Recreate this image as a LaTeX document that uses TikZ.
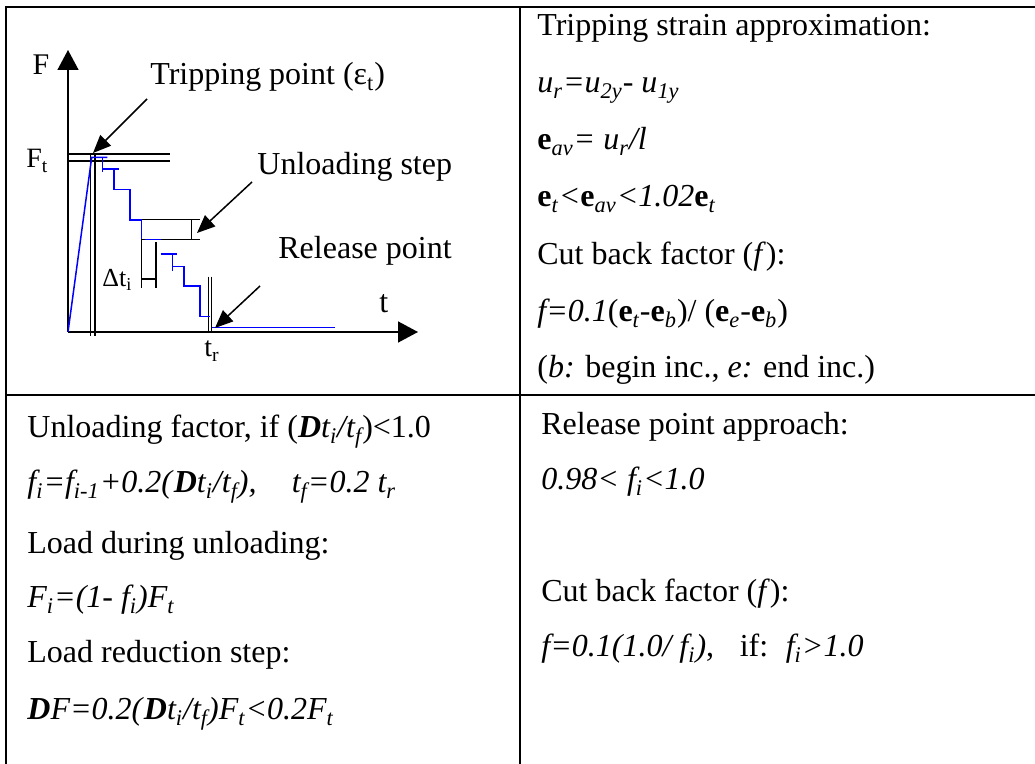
\documentclass[tikz,border=0pt]{standalone}
\usepackage{fontspec}
\setmainfont{Liberation Serif}
\usetikzlibrary{arrows.meta}
\newcommand{\sbs}[1]{\textsubscript{#1}}
\newcommand{\be}{\textbf{e}}
\newcommand{\bD}{\textbf{\textit{D}}}
\begin{document}
\begin{tikzpicture}[x=0.5pt,y=-0.5pt,
  tbl/.style={line width=1pt},
  gl/.style={line width=0.75pt},
  blu/.style={line width=0.75pt, draw=blue},
  txt/.style={anchor=base west, inner sep=0pt, font=\fontsize{16}{19}\selectfont},
  lbl/.style={anchor=base west, inner sep=0pt},
  axisarrow/.style={-{Triangle[length=10pt,width=10.5pt]}},
  ptr/.style={-{Triangle[length=9pt,width=7.5pt]}, line width=0.75pt}]
\useasboundingbox (0,0) rectangle (1035,764);
% table frame
\coordinate (tl) at (6,7);
\coordinate (tr) at (1035,7);
\coordinate (bl) at (6,764);
\coordinate (ml) at (6,395);
\coordinate (mr) at (1035,395);
\coordinate (dt) at (520,7);
\coordinate (db) at (520,764);
\draw[tbl] (bl) -- (tl) -- (tr);
\draw[tbl] (ml) -- (mr);
\draw[tbl] (dt) -- (db);
% axes
\coordinate (O) at (68,332);
\coordinate (Ftop) at (68,50);
\coordinate (Tend) at (418,332);
\draw[gl, axisarrow] (O) -- (Ftop);
\draw[gl, axisarrow] (O) -- (Tend);
% Ft double lines and tripping double verticals
\draw[gl] (68,154) -- (170,154);
\draw[gl] (68,161) -- (170,161);
\draw[gl] (90.7,154) -- (90.7,336);
\draw[gl] (95,154) -- (95,336);
% unloading step box
\draw[gl] (141.7,219.3) -- (200,219.3);
\draw[gl] (141.7,239.3) -- (200,239.3);
\draw[gl] (191.7,219.3) -- (191.7,239.3);
% delta t bracket
\draw[gl] (141.7,239.3) -- (141.7,288.3);
\draw[gl] (156,242.3) -- (156,288.3);
\draw[gl] (141.7,279) -- (156,279);
% release double verticals
\draw[gl] (208.3,276.7) -- (208.3,333);
\draw[gl] (211.7,276.7) -- (211.7,333);
% blue load curve
\draw[blu] (O) -- (91.7,157.3) -- (107.3,157.3);
\draw[blu] (102.7,157.3) -- (102.7,172);
\draw[blu] (102.7,169) -- (118.7,169);
\draw[blu] (114,169) -- (114,189.3) -- (130,189.3) -- (130,220) -- (141.7,220) -- (141.7,239.3);
\draw[blu] (145,239.3) -- (160.7,239.3);
\draw[blu] (160.7,254) -- (176.7,254);
\draw[blu] (172.3,254) -- (172.3,270.7);
\draw[blu] (172.3,266.7) -- (184,266.7) -- (184,286) -- (200,286) -- (200,316.7) -- (210,316.7);
\draw[blu] (211.7,327.3) -- (335,327.3);
% graph labels
\node[anchor=base, inner sep=0pt, font=\fontsize{15}{17}\selectfont] (lF) at (41,75) {F};
\node[lbl, font=\fontsize{16}{19}\selectfont] (lTrip) at (150,85) {Tripping point (ε\sbs{t})};
\node[lbl, font=\fontsize{14}{16}\selectfont] (lFt) at (26,168) {F\sbs{t}};
\node[lbl, font=\fontsize{16}{19}\selectfont] (lUnl) at (257,175) {Unloading step};
\node[lbl, font=\fontsize{16}{19}\selectfont] (lRel) at (278,259) {Release point};
\node[lbl, font=\fontsize{13}{15}\selectfont] (lDt) at (102,287) {Δt\sbs{i}};
\node[lbl, font=\fontsize{16}{19}\selectfont] (lt) at (379,313) {t};
\node[lbl, font=\fontsize{14}{16}\selectfont] (ltr) at (204,357) {t\sbs{r}};
% pointer arrows
\coordinate (a1s) at (147,99);  \coordinate (a1e) at (93,153);
\coordinate (a2s) at (252,182); \coordinate (a2e) at (197,233);
\coordinate (a3s) at (260,286); \coordinate (a3e) at (215,328);
\draw[ptr] (a1s) -- (a1e);
\draw[ptr] (a2s) -- (a2e);
\draw[ptr] (a3s) -- (a3e);
% top-right text
\node[txt] (r1) at (537,36) {Tripping strain approximation:};
\node[txt] (r2) at (537,93) {\textit{u\sbs{r}=u\sbs{2y}- u\sbs{1y}}};
\node[txt] (r3) at (537,150) {\be\textit{\sbs{av}= u\sbs{r}/l}};
\node[txt] (r4) at (537,207) {\be\textit{\sbs{t}<}\be\textit{\sbs{av}<1.02}\be\textit{\sbs{t}}};
\node[txt] (r5) at (537,265) {Cut back factor (\textit{f}):};
\node[txt] (r6) at (537,322) {\textit{f=0.1}(\be\textit{\sbs{t}}-\be\textit{\sbs{b}})/ (\be\textit{\sbs{e}}-\be\textit{\sbs{b}})};
\node[txt] (r7) at (537,378) {(\textit{b:} begin inc., \textit{e:} end inc.)};
% bottom-left text
\node[txt] (b1) at (27,438) {Unloading factor, if (\bD\textit{t\sbs{i}/t\sbs{f}})<1.0};
\node[txt] (b2) at (27,493) {\textit{f\sbs{i}=f\sbs{i-1}+0.2(}\bD\textit{t\sbs{i}/t\sbs{f}),}\hspace{1.1em}\textit{t\sbs{f}=0.2 t\sbs{r}}};
\node[txt] (b3) at (27,554) {Load during unloading:};
\node[txt] (b4) at (27,608) {\textit{F\sbs{i}=(1- f\sbs{i})F\sbs{t}}};
\node[txt] (b5) at (27,663) {Load reduction step:};
\node[txt] (b6) at (27,720) {\bD\textit{F=0.2(}\bD\textit{t\sbs{i}/t\sbs{f})F\sbs{t}<0.2F\sbs{t}}};
% bottom-right text
\node[txt] (c1) at (541,435) {Release point approach:};
\node[txt] (c2) at (541,490) {\textit{0.98< f\sbs{i}<1.0}};
\node[txt] (c3) at (541,602) {Cut back factor (\textit{f}):};
\node[txt] (c4) at (541,657) {\textit{f=0.1(1.0/ f\sbs{i})},\hspace{0.8em}if:\hspace{0.55em}\textit{f\sbs{i}>1.0}};
\end{tikzpicture}
\end{document}
